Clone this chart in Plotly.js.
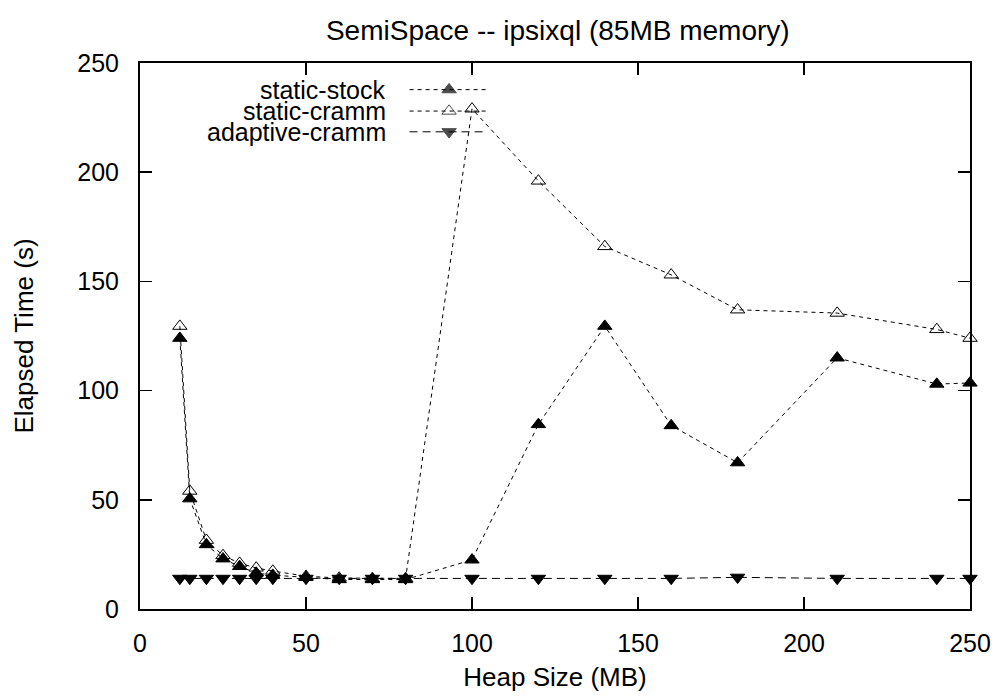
<!DOCTYPE html>
<html>
<head>
<meta charset="utf-8">
<script src="https://cdn.plot.ly/plotly-3.0.1.min.js"></script>
<style>html,body{margin:0;padding:0;background:#fff;}#chart{width:1005px;height:700px;}</style>
</head>
<body>
<div id="chart"></div>
<script>
// ---- data ----
const heapSizes = [12, 15, 20, 25, 30, 35, 40, 50, 60, 70, 80, 100, 120, 140, 160, 180, 210, 240, 250];
const staticStock = [124, 50.5, 29.5, 23, 19.5, 16.5, 15.5, 14.5, 13.5, 13.5, 13.5, 22.5, 84.5, 129.5, 84, 67, 115, 103, 103.5];
const staticCramm = [129.5, 54, 31.5, 24.5, 21, 18.8, 17.4, 15, 14.2, 14, 14, 229, 196, 166, 153, 137, 135.5, 128, 124];
const adaptiveCramm = [14, 14, 14, 14, 14, 14, 14, 14, 14, 14, 14, 14, 14, 14, 14, 14.5, 14, 14, 14];

const seriesNames = ['static-stock', 'static-cramm', 'adaptive-cramm'];
const xTicks = [0, 50, 100, 150, 200, 250];
const yTicks = [0, 50, 100, 150, 200, 250];

// legend key placement (in axis units, gnuplot-style key: text then sample)
const keyTextX = 74.7;
const keySampleX = [81.2, 93.1, 104.5];
const keyRowY = [237.8, 228, 218.5];

const FONT = 'Liberation Sans, Arial, Helvetica, sans-serif';

const styles = [
  {symbol: 'triangle-up', dash: '4px,4px'},
  {symbol: 'triangle-up-open', dash: '4px,4px'},
  {symbol: 'triangle-down', dash: '8px,5px'}
];
const values = [staticStock, staticCramm, adaptiveCramm];
const MSIZE = 12.5;

const traces = [];
values.forEach((v, i) => {
  traces.push({
    x: heapSizes, y: v, type: 'scatter', mode: 'lines+markers', name: seriesNames[i],
    line: {color: '#000', width: 1, dash: styles[i].dash},
    marker: {symbol: styles[i].symbol, size: MSIZE, color: '#000', line: {color: '#000', width: 1}},
    showlegend: false, cliponaxis: false
  });
});
// key samples
seriesNames.forEach((n, i) => {
  traces.push({
    x: keySampleX, y: [keyRowY[i], keyRowY[i], keyRowY[i]], type: 'scatter', mode: 'lines+markers',
    line: {color: '#000', width: 1, dash: styles[i].dash},
    marker: {symbol: styles[i].symbol, size: [0, MSIZE, 0], color: '#000', line: {color: '#000', width: 1}},
    showlegend: false, hoverinfo: 'skip', cliponaxis: false
  });
});

const annotations = seriesNames.map((n, i) => ({
  x: keyTextX, y: keyRowY[i], xref: 'x', yref: 'y', text: n, showarrow: false,
  xanchor: 'right', yanchor: 'middle', font: {family: FONT, size: 25, color: '#000'}
}));

const layout = {
  width: 1005, height: 700,
  margin: {l: 140, r: 35, t: 63, b: 91},
  paper_bgcolor: '#fff', plot_bgcolor: '#fff',
  showlegend: false,
  title: {text: 'SemiSpace -- ipsixql (85MB memory)', font: {family: FONT, size: 28, color: '#000'},
          x: 0.555, xanchor: 'center', y: 0.957, yanchor: 'middle'},
  xaxis: {
    range: [0, 250], tickvals: xTicks, ticktext: xTicks.map(String),
    ticks: 'inside', ticklen: 12, tickwidth: 1.5, tickcolor: '#000',
    showline: true, linecolor: '#000', linewidth: 2, mirror: 'allticks',
    showgrid: false, zeroline: false, ticklabelstandoff: 11,
    tickfont: {family: FONT, size: 25, color: '#000'},
    title: {text: 'Heap Size (MB)', font: {family: FONT, size: 26, color: '#000'}, standoff: 12}
  },
  yaxis: {
    range: [0, 250], tickvals: yTicks, ticktext: yTicks.map(String),
    ticks: 'inside', ticklen: 12, tickwidth: 1.5, tickcolor: '#000',
    showline: true, linecolor: '#000', linewidth: 2, mirror: 'allticks',
    showgrid: false, zeroline: false, ticklabelstandoff: 14,
    tickfont: {family: FONT, size: 25, color: '#000'},
    title: {text: 'Elapsed Time (s)', font: {family: FONT, size: 26, color: '#000'}, standoff: 36}
  },
  annotations: annotations
};

Plotly.newPlot('chart', traces, layout, {staticPlot: true, displayModeBar: false});
</script>
</body>
</html>
